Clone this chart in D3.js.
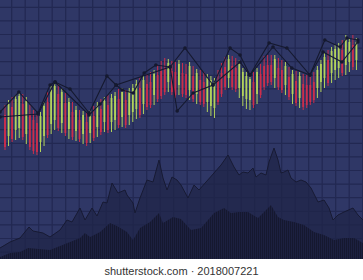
<!DOCTYPE html>
<html>
<head>
  <meta charset="UTF-8">
  <title>Candles</title>
  <script src="https://d3js.org/d3.v7.min.js"></script>
  <style>
    body { margin: 0; background: #fff; }
    svg { display: block; }
  </style>
</head>
<body>
  <svg width="363" height="280"></svg>

  <script>
    // candles (price units), one per session
    const candleOpen = [72.5, 62, 76.5, 65, 66, 78, 63, 72.5, 70, 68.5,
      59, 62, 79, 68, 70, 83, 68.5, 78.5, 65.5, 74,
      64.5, 70, 63, 69, 63.5, 72, 66.5, 75.5, 69, 77.5,
      69, 70, 80.5, 71.5, 80, 72.5, 74, 75.5, 86, 78,
      88, 89, 82.5, 92.5, 94.5, 96, 89, 94.5, 94, 87.5,
      93.5, 93, 85, 92, 83, 90, 89, 79, 77, 76,
      90, 93.5, 96.5, 91, 97, 96, 86, 82, 80.5, 80,
      89, 83, 93, 97, 97.5, 97.5, 91, 96, 95, 87.5,
      91.5, 83, 89.5, 81, 88, 87.5, 87.5, 89, 86, 89,
      91, 100, 93.5, 95, 96, 105, 97.5, 99, 107.5, 100];
    const candleClose = [56.5, 78, 60.5, 80.5, 82, 61.5, 79.5, 56.5, 54.5, 54,
      72, 77, 62.5, 85, 87, 66, 84, 63.5, 79, 61.5,
      75, 60.5, 72.5, 58.5, 73, 61, 77, 64, 79.5, 65,
      81, 82, 67.5, 84, 67.5, 84, 86, 88, 72.5, 90,
      76.5, 77.5, 93, 80.5, 82, 84, 98.5, 84, 82.5, 98,
      83, 82.5, 97, 80.5, 93.5, 79, 78, 91, 90, 89,
      79, 83, 86.5, 100.5, 86.5, 85.5, 98, 94, 92, 90.5,
      77.5, 94, 82.5, 86.5, 88.5, 89, 100.5, 86.5, 85, 97,
      81.5, 93, 78.5, 92, 76.5, 77.5, 79, 80, 95, 98,
      101.5, 88.5, 104.5, 105.5, 106.5, 93.5, 110.5, 109, 96.5, 109];
    const candleHigh = [77.5, 80, 81.5, 82.5, 84, 83, 81.5, 77.5, 75, 73.5,
      74, 79, 84, 87, 89, 88, 86, 83.5, 81, 79,
      77, 75, 74.5, 74, 75, 77, 79, 80.5, 81.5, 82.5,
      83, 84, 85.5, 86, 85, 86, 88, 90, 91, 92,
      93, 94, 95, 97.5, 99.5, 101, 100.5, 99.5, 99, 100,
      98.5, 98, 99, 97, 95.5, 95, 94, 93, 92, 91,
      95, 98.5, 101.5, 102.5, 102, 101, 100, 96, 94, 92.5,
      94, 96, 98, 102, 102.5, 102.5, 102.5, 101, 100, 99,
      96.5, 95, 94.5, 94, 93, 92.5, 92.5, 94, 97, 100,
      103.5, 105, 106.5, 107.5, 108.5, 110, 112.5, 111, 112.5, 111];
    const candleLow = [55, 57, 59, 60, 61, 60, 58, 55, 53, 52.5,
      54, 57, 61, 63, 65, 64.5, 63.5, 62, 60.5, 60,
      59.5, 59, 58, 57, 58.5, 59.5, 61.5, 62.5, 64, 63.5,
      64, 65, 66, 66.5, 66, 67.5, 69, 70.5, 71, 73,
      75, 76, 77.5, 79, 80.5, 82.5, 84, 82.5, 81, 82.5,
      81.5, 81, 80, 79, 78, 77.5, 76.5, 74, 72, 71,
      77.5, 81.5, 85, 86, 85, 84, 81, 77, 75.5, 75,
      76, 78, 81, 85, 87, 87.5, 86, 85, 83.5, 82.5,
      80, 78, 77, 76, 75, 76, 77.5, 78.5, 81, 84,
      86, 87, 88.5, 90, 91, 92, 92.5, 94, 95, 95];

    // two pivot lines: session index and price
    const lineAIdx = [-1.4, 3.9, 9.3, 12.7, 14.1, 18.3, 23.7, 28.7, 31.3, 33.0, 36.1, 39.2, 42.5,
      46.5, 50.7, 58.6, 63.4, 66.2, 69.0, 74.4, 79.4, 85.9, 90.1, 94.4, 96.3, 99.4];
    const lineAPrice = [74, 84, 73.5, 87.5, 89, 85.5, 73.5, 92, 87.5, 85, 83.5, 93.5, 97.5,
      96.5, 106, 87.5, 106, 102.5, 92.5, 108.5, 106, 92.5, 110, 106.5, 111, 110];
    const lineBIdx = [-1.4, 9.3, 14.1, 23.7, 26.8, 31.3, 46.5, 48.5, 53.0, 58.6,
      66.2, 69.0, 75.5, 80.8, 85.9, 89.6, 94.9, 99.4];
    const lineBPrice = [71.5, 73, 89, 72.5, 78, 87.5, 96.5, 74.5, 83.5, 87.5,
      99, 92.5, 106.5, 96, 92.5, 104, 99, 109];

    // lower panel: index line and volume
    const mtnT = [0, 10, 20, 29, 33, 43, 50, 60, 67, 72, 80, 85, 92, 97, 103, 107, 112, 115, 118, 125,
      127, 133, 135, 140, 147, 153, 159, 163, 167, 172, 177, 181, 188, 194, 199, 206, 214, 221, 228, 234,
      239, 243, 248, 253, 256, 261, 266, 269, 274, 278, 281, 284, 288, 291, 296, 301, 306, 311, 318, 324,
      329, 333, 338, 344, 353, 358, 363];
    const mtnV = [11, 17, 21, 32, 28, 26, 22, 29, 39, 37, 51, 39, 51, 43, 57, 56, 76, 71, 66, 69,
      64, 56, 46, 61, 79, 77, 99, 81, 69, 82, 79, 74, 61, 74, 69, 77, 86, 94, 104, 92,
      84, 87, 86, 91, 82, 86, 84, 97, 111, 99, 86, 87, 89, 81, 77, 79, 77, 71, 57, 59,
      51, 39, 44, 47, 51, 44, 39];
    const volT = [0, 10, 20, 28, 50, 60, 70, 80, 85, 90, 100, 110, 117, 127, 133, 140, 150, 159, 163, 173,
      181, 191, 201, 208, 214, 224, 231, 239, 248, 258, 271, 278, 284, 294, 304, 314, 324, 334, 344, 354, 363];
    const volV = [2, 6, 7, 11, 9, 13, 17, 21, 26, 22, 27, 36, 33, 27, 19, 31, 37, 46, 36, 42,
      40, 29, 31, 39, 46, 51, 46, 47, 47, 41, 54, 42, 39, 37, 34, 27, 24, 19, 21, 21, 16];

    const W = 363, H = 259;
    const svg = d3.select("svg");

    const x = d3.scaleLinear().domain([-1.41, 100.85]).range([0, W]);
    const y = d3.scaleLinear().domain([0, 130]).range([260, 0]);
    const x2 = d3.scaleLinear().domain([0, 363]).range([0, W]);
    const y2 = d3.scaleLinear().domain([0, 119]).range([H, 140]);

    const defs = svg.append("defs");
    const pat = defs.append("pattern")
      .attr("id", "stripes")
      .attr("patternUnits", "userSpaceOnUse")
      .attr("width", 2).attr("height", 4);
    pat.append("rect").attr("width", 2).attr("height", 4).attr("fill", "#1c2040");
    pat.append("rect").attr("width", 1).attr("height", 4).attr("fill", "#15182f");

    defs.append("clipPath").attr("id", "plot")
      .append("rect").attr("width", W).attr("height", H);

    svg.append("rect").attr("width", W).attr("height", H).attr("fill", "#2f3766");

    // grid
    const grid = svg.append("g")
      .attr("stroke", "#222852")
      .attr("stroke-width", 1.2);
    grid.selectAll("line.v")
      .data(d3.range(11.7, W, 13.5))
      .join("line")
      .attr("class", "v")
      .attr("x1", d => d).attr("x2", d => d)
      .attr("y1", 0).attr("y2", H);
    grid.selectAll("line.h")
      .data(d3.range(7.3, H, 13.6))
      .join("line")
      .attr("class", "h")
      .attr("x1", 0).attr("x2", W)
      .attr("y1", d => d).attr("y2", d => d);

    const low = svg.append("g").attr("clip-path", "url(#plot)");

    const mtn = mtnT.map((t, i) => [t, mtnV[i]]);
    low.append("path")
      .datum(mtn)
      .attr("fill", "#1f2447")
      .attr("fill-opacity", 0.72)
      .attr("d", d3.area().x(d => x2(d[0])).y0(H).y1(d => y2(d[1])));
    low.append("path")
      .datum(mtn)
      .attr("fill", "none")
      .attr("stroke", "#171a33")
      .attr("stroke-width", 1)
      .attr("d", d3.line().x(d => x2(d[0])).y(d => y2(d[1])));

    const vol = volT.map((t, i) => [t, volV[i]]);
    low.append("path")
      .datum(vol)
      .attr("fill", "url(#stripes)")
      .attr("d", d3.area().x(d => x2(d[0])).y0(H).y1(d => y2(d[1])));

    // candles
    const candles = candleOpen.map((o, i) => ({
      i, o, c: candleClose[i], h: candleHigh[i], l: candleLow[i]
    }));
    const col = d => d.c >= d.o ? "#b3d35c" : "#cc2e4c";

    const cg = svg.append("g");
    cg.selectAll("line")
      .data(candles)
      .join("line")
      .attr("x1", d => x(d.i)).attr("x2", d => x(d.i))
      .attr("y1", d => y(d.h)).attr("y2", d => y(d.l))
      .attr("stroke", col)
      .attr("stroke-width", 1);
    cg.selectAll("rect")
      .data(candles)
      .join("rect")
      .attr("x", d => x(d.i) - 0.9)
      .attr("width", 1.8)
      .attr("y", d => y(Math.max(d.o, d.c)))
      .attr("height", d => Math.abs(y(d.o) - y(d.c)))
      .attr("fill", col);

    // pivot lines
    const lines = [
      lineAIdx.map((t, i) => [t, lineAPrice[i]]),
      lineBIdx.map((t, i) => [t, lineBPrice[i]])
    ];
    const lg = svg.append("g");
    lg.selectAll("path")
      .data(lines)
      .join("path")
      .attr("fill", "none")
      .attr("stroke", "#15192f")
      .attr("stroke-width", 1.1)
      .attr("d", d3.line().x(d => x(d[0])).y(d => y(d[1])));
    lg.selectAll("circle")
      .data(lines.flat())
      .join("circle")
      .attr("cx", d => x(d[0]))
      .attr("cy", d => y(d[1]))
      .attr("r", 1.8)
      .attr("fill", "#15192f");

    svg.append("text")
      .attr("x", W / 2)
      .attr("y", 275)
      .attr("text-anchor", "middle")
      .attr("font-family", "Liberation Sans, Arial, sans-serif")
      .attr("font-size", 11)
      .attr("fill", "#333")
      .text("shutterstock.com · 2018007221");
  </script>
</body>
</html>
